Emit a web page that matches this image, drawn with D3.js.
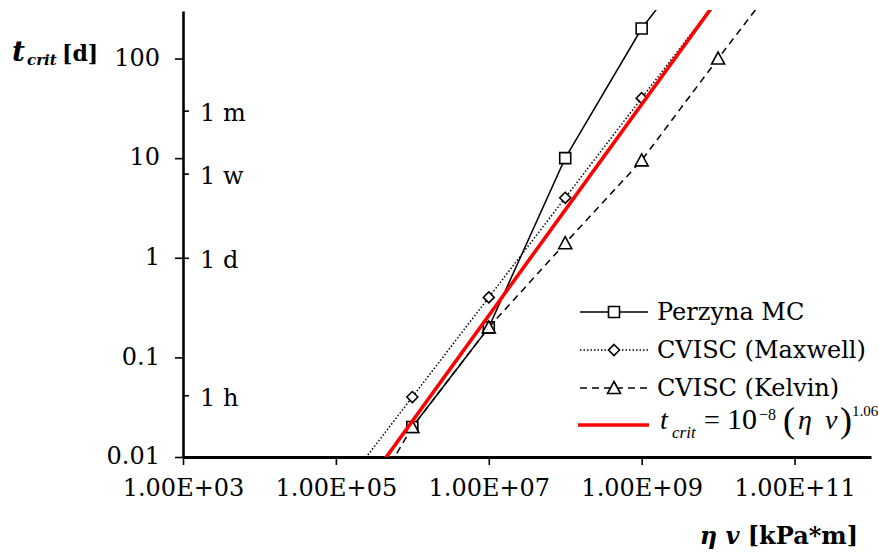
<!DOCTYPE html>
<html>
<head>
<meta charset="utf-8">
<script src="https://cdn.jsdelivr.net/npm/d3@7"></script>
<style>
  body { margin: 0; background: #fff; }
  svg { display: block; }
</style>
</head>
<body>
<svg id="chart" width="879" height="554"></svg>
<script>
// critical time t_crit [days] versus viscosity * velocity (kPa*m)
const perzynaX = [1e6, 1e7, 1e8, 1e9, 1e10];
const perzynaT = [0.02, 0.2, 10, 200, 2000];

const maxwellX = [1e5, 1e6, 1e7, 1e8, 1e9, 1e10];
const maxwellT = [0.004, 0.04, 0.4, 4, 40, 400];

const kelvinX = [1e5, 1e6, 1e7, 1e8, 1e9, 1e10, 1e11];
const kelvinT = [0.001, 0.02, 0.2, 1.4, 9.5, 100, 1000];

// power-law fit t_crit = 1e-8 * (eta v)^1.06
const fitCoef = 1e-8;
const fitExp = 1.06;
const fitX = [1e5, 1e12];

const seriesNames = ["Perzyna MC", "CVISC (Maxwell)", "CVISC (Kelvin)"];

const yTicks = [0.01, 0.1, 1, 10, 100];
const yTickLabels = ["0.01", "0.1", "1", "10", "100"];

const timeMarks = [1 / 24, 1, 7, 30];
const timeLabels = ["1 h", "1 d", "1 w", "1 m"];

const xTicks = [1e3, 1e5, 1e7, 1e9, 1e11];
const xTickLabels = ["1.00E+03", "1.00E+05", "1.00E+07", "1.00E+09", "1.00E+11"];

const svg = d3.select("#chart");
const serif = "'DejaVu Serif', serif";
const times = "'Liberation Serif', 'Times New Roman', serif";

const plotLeft = 183, plotRight = 871, plotTop = 11, plotBottom = 457;

const x = d3.scaleLog().domain([1e3, 1e12]).range([plotLeft, plotRight]);
const y = d3.scaleLog().domain([0.01, 300]).range([plotBottom, plotTop]);

svg.append("defs").append("clipPath").attr("id", "plotClip")
  .append("rect")
  .attr("x", plotLeft).attr("y", plotTop - 1)
  .attr("width", plotRight - plotLeft).attr("height", plotBottom - plotTop + 1);

// ---- axes ----
const yAxis = d3.axisLeft(y)
  .tickValues(yTicks)
  .tickFormat((d, i) => yTickLabels[i])
  .tickSize(8).tickSizeOuter(0).tickPadding(15);

const gy = svg.append("g").attr("transform", `translate(${plotLeft},0)`).call(yAxis);
gy.select(".domain").attr("stroke-width", 2.6);
gy.selectAll(".tick line").attr("stroke-width", 1.6);
gy.selectAll(".tick text")
  .attr("font-family", serif).attr("font-size", 24).attr("fill", "#000")
  .attr("dy", "0.28em");

// time-unit marks on the inside of the y axis
const yTime = d3.axisRight(y)
  .tickValues(timeMarks)
  .tickFormat((d, i) => timeLabels[i])
  .tickSize(6).tickSizeOuter(0).tickPadding(11);

const gt = svg.append("g").attr("transform", `translate(${plotLeft},0)`).call(yTime);
gt.select(".domain").remove();
gt.selectAll(".tick line").attr("stroke-width", 1.6);
gt.selectAll(".tick text")
  .attr("font-family", serif).attr("font-size", 24).attr("fill", "#000")
  .attr("dy", "0.42em");

const xAxis = d3.axisBottom(x)
  .tickValues(xTicks)
  .tickFormat((d, i) => xTickLabels[i])
  .tickSize(8).tickSizeOuter(0).tickPadding(14);

const gx = svg.append("g").attr("transform", `translate(0,${plotBottom})`).call(xAxis);
gx.select(".domain").attr("stroke-width", 3);
gx.selectAll(".tick line").attr("stroke-width", 1.6);
gx.selectAll(".tick text")
  .attr("font-family", serif).attr("font-size", 24).attr("fill", "#000");

// ---- axis titles ----
const yTitle = svg.append("g")
  .attr("font-family", serif).attr("font-weight", "bold").attr("fill", "#000");
yTitle.append("text").attr("x", 12).attr("y", 61)
  .attr("font-size", 28).attr("font-style", "italic").text("t");
yTitle.append("text").attr("x", 27).attr("y", 65)
  .attr("font-size", 15).attr("font-style", "italic").text("crit");
yTitle.append("text").attr("x", 62).attr("y", 61)
  .attr("font-size", 22).text("[d]");

const xTitle = svg.append("text")
  .attr("x", 858).attr("y", 544).attr("text-anchor", "end")
  .attr("font-family", serif).attr("font-weight", "bold")
  .attr("font-size", 24).attr("fill", "#000");
xTitle.append("tspan").attr("font-style", "italic").text("η v");
xTitle.append("tspan").text(" [kPa*m]");

// ---- series ----
const plot = svg.append("g").attr("clip-path", "url(#plotClip)");

const line = d3.line().x(d => x(d[0])).y(d => y(d[1]));

const squarePath = "M-5.5,-5.5H5.5V5.5H-5.5Z";
const diamondPath = "M0,-5.5L5.5,0L0,5.5L-5.5,0Z";
const trianglePath = "M0,-6.5L6.5,5.5H-6.5Z";

const series = [
  { name: seriesNames[0], xs: perzynaX, ts: perzynaT, dash: null, marker: squarePath },
  { name: seriesNames[1], xs: maxwellX, ts: maxwellT, dash: "1.5,2", marker: diamondPath },
  { name: seriesNames[2], xs: kelvinX, ts: kelvinT, dash: "7,5", marker: trianglePath }
];

series.forEach(s => {
  const pts = s.xs.map((v, i) => [v, s.ts[i]]);
  plot.append("path")
    .attr("d", line(pts))
    .attr("fill", "none").attr("stroke", "#000")
    .attr("stroke-width", 1.5)
    .attr("stroke-dasharray", s.dash);
  plot.selectAll(null).data(pts).enter().append("path")
    .attr("d", s.marker)
    .attr("transform", d => `translate(${x(d[0])},${y(d[1])})`)
    .attr("fill", "#fff").attr("stroke", "#000").attr("stroke-width", 1.6);
});

const fitPts = fitX.map(v => [v, fitCoef * Math.pow(v, fitExp)]);
plot.append("path")
  .attr("d", line(fitPts))
  .attr("fill", "none").attr("stroke", "#ff0000").attr("stroke-width", 3.6);

// ---- legend ----
const legRows = [312, 350, 388, 425];
const legX0 = 580, legX1 = 648, legMid = 614, legText = 657;
const legend = svg.append("g");

series.forEach((s, i) => {
  const ry = legRows[i];
  legend.append("line")
    .attr("x1", legX0).attr("x2", legX1).attr("y1", ry).attr("y2", ry)
    .attr("stroke", "#000").attr("stroke-width", 1.5)
    .attr("stroke-dasharray", s.dash);
  legend.append("path")
    .attr("d", s.marker)
    .attr("transform", `translate(${legMid},${ry})`)
    .attr("fill", "#fff").attr("stroke", "#000").attr("stroke-width", 1.6);
  legend.append("text")
    .attr("x", legText).attr("y", ry).attr("dy", "0.35em")
    .attr("font-family", serif).attr("font-size", 24).attr("fill", "#000")
    .text(s.name);
});

const fr = legRows[3];
legend.append("line")
  .attr("x1", legX0 - 2).attr("x2", legX1 + 1).attr("y1", fr).attr("y2", fr)
  .attr("stroke", "#ff0000").attr("stroke-width", 3.6);

// fit equation, set piece by piece
const eq = legend.append("g").attr("font-family", times).attr("fill", "#000");
const base = fr + 4;
const eqPart = (px, dy, size, txt, italic) => eq.append("text")
  .attr("x", px).attr("y", base + dy).attr("font-size", size)
  .attr("font-style", italic ? "italic" : "normal")
  .text(txt);
eqPart(660, 0, 28, "t", true);
eqPart(672, 9, 17, "crit", true);
eqPart(704, 0, 28, "=", false);
eqPart(727, 0, 30, "10", false);
eqPart(759, -9, 16, "−8", false);
eqPart(783, 3, 36, "(", false);
eqPart(798, 0, 28, "η", true);
eqPart(825, 0, 28, "v", true);
eqPart(840, 3, 36, ")", false);
eqPart(852, -13, 15, fitExp.toFixed(2), false);
</script>
</body>
</html>
